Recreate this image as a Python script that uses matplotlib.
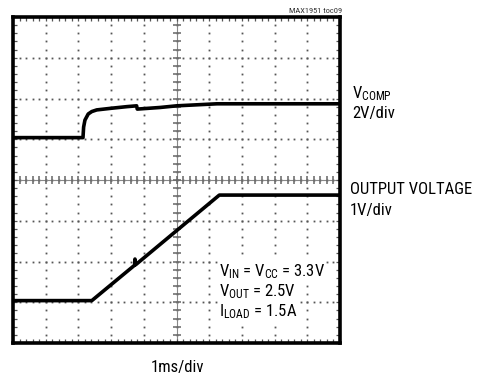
import numpy as np
import matplotlib
matplotlib.use("Agg")
import matplotlib.pyplot as plt
from matplotlib import font_manager

# ---- data (divisions: x 0..10, y 0..8) ----
vcomp_t = [0.0, 2.14, 2.16, 2.20, 2.30, 2.41, 2.56, 3.0, 3.48, 3.78, 3.80, 4.50, 5.0, 6.24, 10.0]
vcomp_v = [5.04, 5.04, 5.30, 5.47, 5.62, 5.68, 5.72, 5.76, 5.80, 5.82, 5.74, 5.78, 5.82, 5.87, 5.87]

vout_t = [0.0, 2.41, 3.72, 3.73, 3.74, 3.75, 6.31, 10.0]
vout_v = [1.04, 1.04, 1.91, 2.06, 1.92, 1.92, 3.63, 3.63]

xdivs = 10
ydivs = 8

labels_right = [("V$_{\\mathrm{COMP}}$", "2V/div"), ("OUTPUT VOLTAGE", "1V/div")]
time_label = "1ms/div"
cond_lines = ["V$_{\\mathrm{IN}}$ = V$_{\\mathrm{CC}}$ = 3.3V",
              "V$_{\\mathrm{OUT}}$ = 2.5V",
              "I$_{\\mathrm{LOAD}}$ = 1.5A"]
tag = "MAX1951 toc09"

# pick the narrowest available sans family
names = {f.name for f in font_manager.fontManager.ttflist}
cands = [('Liberation Sans Narrow', 12.5), ('Roboto Condensed', 12.0),
         ('Noto Sans Condensed', 11.5), ('Open Sans Condensed', 11.5),
         ('DejaVu Sans Condensed', 10.5), ('Roboto', 10.8)]
fam, fs = 'DejaVu Sans', 9.5
for n, s in cands:
    if n in names:
        fam, fs = n, s
        break

plt.rcParams['font.family'] = [fam, 'DejaVu Sans']
plt.rcParams['mathtext.fontset'] = 'custom'
plt.rcParams['mathtext.rm'] = fam
plt.rcParams['mathtext.it'] = fam
plt.rcParams['mathtext.bf'] = fam

W, H = 479, 378
fig = plt.figure(figsize=(W / 100, H / 100), dpi=100)
ax = fig.add_axes([13 / W, 1 - 343 / H, (340 - 13) / W, (343 - 17) / H])
ax.set_xlim(0, xdivs)
ax.set_ylim(0, ydivs)

# dotted graticule
sub = 0.2
for gx in range(1, xdivs):
    ys = np.arange(0, ydivs + 1e-9, sub)
    ax.plot(np.full_like(ys, gx), ys, ls='none', marker='s', ms=1.3,
            color='#555555', mew=0, zorder=1)
for gy in range(1, ydivs):
    xs = np.arange(0, xdivs + 1e-9, sub)
    ax.plot(xs, np.full_like(xs, gy), ls='none', marker='s', ms=1.3,
            color='#555555', mew=0, zorder=1)

# center crosshair with ticks
ax.axhline(ydivs / 2, color='#888888', lw=0.8, zorder=1)
ax.axvline(xdivs / 2, color='#888888', lw=0.8, zorder=1)
xs = np.arange(0, xdivs + 1e-9, sub)
ax.plot(xs, np.full_like(xs, ydivs / 2), ls='none', marker='|', ms=6,
        mew=1.1, color='#666666', zorder=1)
ys = np.arange(0, ydivs + 1e-9, sub)
ax.plot(np.full_like(ys, xdivs / 2), ys, ls='none', marker='_', ms=6,
        mew=1.1, color='#666666', zorder=1)

# edge ticks
ax.set_xticks(np.arange(0, xdivs + 1e-9, sub))
ax.set_yticks(np.arange(0, ydivs + 1e-9, sub))
ax.tick_params(which='both', direction='in', length=3, width=0.9, color='#555555',
               top=True, right=True, labelbottom=False, labelleft=False)

# traces
ax.plot(vcomp_t, vcomp_v, color='black', lw=2.6, solid_joinstyle='round', zorder=3)
ax.plot(vout_t, vout_v, color='black', lw=2.6, solid_joinstyle='round', zorder=3)

for s in ax.spines.values():
    s.set_linewidth(2.6)
    s.set_color('black')


def fpos(x, y):
    return x / W, 1 - y / H


# right labels
fig.text(*fpos(352, 98), labels_right[0][0], fontsize=fs, va='baseline', ha='left')
fig.text(*fpos(352, 118), labels_right[0][1], fontsize=fs, va='baseline', ha='left')
fig.text(*fpos(350, 194), labels_right[1][0], fontsize=fs, va='baseline', ha='left')
fig.text(*fpos(350, 215), labels_right[1][1], fontsize=fs, va='baseline', ha='left')

# time label
fig.text(*fpos(177, 372), time_label, fontsize=fs, va='baseline', ha='center')

# tag
fig.text(*fpos(342, 13), tag, fontsize=6, va='baseline', ha='right', color='#333333')

# conditions
for line, by in zip(cond_lines, [276, 296, 316]):
    fig.text(*fpos(219, by), line, fontsize=fs, va='baseline', ha='left', zorder=5,
             bbox=dict(facecolor='white', edgecolor='none', pad=1.0))

fig.savefig("out.png", dpi=100)
